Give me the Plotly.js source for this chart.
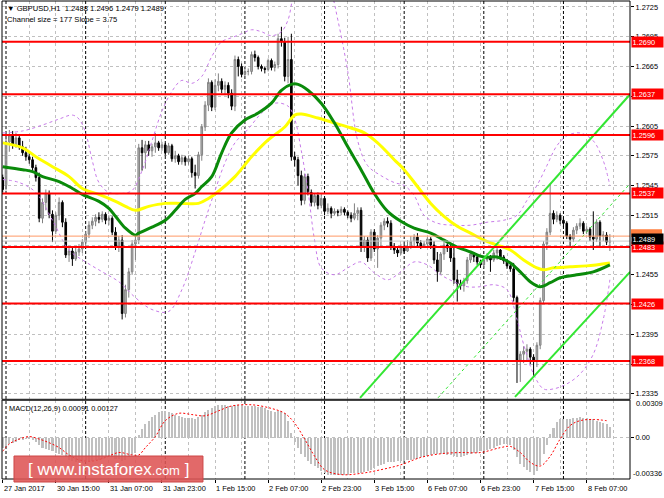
<!DOCTYPE html>
<html>
<head>
<meta charset="utf-8">
<script src="https://cdn.plot.ly/plotly-3.0.1.min.js"></script>
<style>
html,body{margin:0;padding:0;background:#fff;}
#chart{width:664px;height:498px;}
</style>
</head>
<body>
<div id="chart"></div>
<script>
// ---------------- DATA ----------------
const openP = [1.2553,1.2545,1.2589,1.2596,1.2586,1.2593,1.2584,1.2578,1.2574,1.2571,1.2563,1.2553,1.2512,1.2528,1.2537,1.2516,1.2499,1.2515,1.2528,1.2508,
1.2475,1.2479,1.2471,1.2478,1.2481,1.2488,1.2496,1.2505,1.2509,1.2513,1.2511,1.2516,1.2510,1.2512,1.2498,1.2484,1.2490,1.2416,1.2440,1.2458,
1.2486,1.2490,1.2583,1.2578,1.2586,1.2580,1.2584,1.2588,1.2583,1.2586,1.2578,1.2585,1.2572,1.2575,1.2569,1.2573,1.2569,1.2572,1.2558,1.2555,
1.2576,1.2604,1.2626,1.2649,1.2624,1.2646,1.2650,1.2642,1.2646,1.2638,1.2625,1.2672,1.2665,1.2657,1.2660,1.2660,1.2677,1.2674,1.2665,1.2663,
1.2662,1.2671,1.2664,1.2667,1.2693,1.2690,1.2655,1.2672,1.2574,1.2571,1.2555,1.2530,1.2554,1.2538,1.2528,1.2535,1.2525,1.2532,1.2519,1.2522,
1.2517,1.2519,1.2518,1.2521,1.2518,1.2515,1.2512,1.2517,1.2520,1.2483,1.2490,1.2472,1.2498,1.2481,1.2492,1.2505,1.2509,1.2507,1.2483,1.2480,
1.2477,1.2482,1.2479,1.2483,1.2489,1.2493,1.2487,1.2484,1.2486,1.2491,1.2485,1.2470,1.2458,1.2476,1.2485,1.2482,1.2472,1.2450,1.2446,1.2444,
1.2449,1.2470,1.2476,1.2473,1.2468,1.2465,1.2470,1.2473,1.2470,1.2477,1.2480,1.2473,1.2469,1.2464,1.2461,1.2432,1.2369,1.2375,1.2378,1.2380,
1.2372,1.2368,1.2384,1.2429,1.2486,1.2498,1.2517,1.2511,1.2515,1.2510,1.2507,1.2494,1.2491,1.2500,1.2504,1.2507,1.2499,1.2501,1.2493,1.2491,
1.2508,1.2494,1.2495,1.2488];
const highP = [1.2556,1.2592,1.2601,1.2600,1.2598,1.2596,1.2590,1.2584,1.2578,1.2574,1.2566,1.2558,1.2532,1.2541,1.2540,1.2520,1.2518,1.2533,1.2530,1.2512,
1.2482,1.2484,1.2483,1.2486,1.2491,1.2499,1.2509,1.2513,1.2516,1.2518,1.2519,1.2518,1.2515,1.2514,1.2503,1.2494,1.2495,1.2445,1.2462,1.2490,
1.2494,1.2587,1.2591,1.2590,1.2590,1.2587,1.2598,1.2590,1.2589,1.2588,1.2588,1.2587,1.2580,1.2577,1.2576,1.2575,1.2575,1.2574,1.2566,1.2579,
1.2607,1.2630,1.2653,1.2651,1.2652,1.2658,1.2653,1.2650,1.2649,1.2642,1.2676,1.2675,1.2668,1.2663,1.2663,1.2680,1.2681,1.2676,1.2667,1.2665,
1.2673,1.2673,1.2670,1.2698,1.2705,1.2694,1.2695,1.2698,1.2579,1.2574,1.2560,1.2557,1.2557,1.2541,1.2537,1.2538,1.2536,1.2534,1.2527,1.2524,
1.2522,1.2521,1.2524,1.2523,1.2520,1.2518,1.2527,1.2523,1.2523,1.2494,1.2493,1.2501,1.2501,1.2495,1.2508,1.2512,1.2513,1.2510,1.2487,1.2484,
1.2486,1.2486,1.2490,1.2494,1.2496,1.2497,1.2490,1.2489,1.2493,1.2493,1.2489,1.2478,1.2478,1.2490,1.2490,1.2485,1.2483,1.2460,1.2450,1.2452,
1.2473,1.2479,1.2478,1.2475,1.2470,1.2472,1.2477,1.2475,1.2480,1.2487,1.2481,1.2475,1.2471,1.2467,1.2467,1.2434,1.2378,1.2383,1.2385,1.2382,
1.2375,1.2387,1.2432,1.2489,1.2502,1.2547,1.2520,1.2519,1.2517,1.2513,1.2509,1.2496,1.2503,1.2507,1.2512,1.2509,1.2504,1.2503,1.2519,1.2511,
1.2510,1.2499,1.2498,1.2496];
const lowP = [1.2538,1.2540,1.2579,1.2582,1.2583,1.2581,1.2575,1.2570,1.2567,1.2560,1.2549,1.2508,1.2507,1.2520,1.2512,1.2488,1.2496,1.2510,1.2503,1.2472,
1.2468,1.2464,1.2469,1.2474,1.2477,1.2484,1.2492,1.2501,1.2504,1.2507,1.2508,1.2506,1.2505,1.2495,1.2480,1.2478,1.2410,1.2412,1.2432,1.2455,
1.2470,1.2486,1.2560,1.2562,1.2575,1.2574,1.2578,1.2580,1.2580,1.2575,1.2576,1.2569,1.2568,1.2566,1.2566,1.2565,1.2566,1.2553,1.2542,1.2552,
1.2570,1.2600,1.2620,1.2620,1.2621,1.2640,1.2638,1.2636,1.2633,1.2621,1.2620,1.2655,1.2654,1.2655,1.2656,1.2657,1.2670,1.2662,1.2660,1.2658,
1.2660,1.2661,1.2660,1.2663,1.2685,1.2650,1.2648,1.2570,1.2564,1.2545,1.2525,1.2526,1.2535,1.2524,1.2524,1.2521,1.2522,1.2515,1.2516,1.2512,
1.2515,1.2514,1.2515,1.2515,1.2512,1.2508,1.2510,1.2510,1.2478,1.2478,1.2468,1.2469,1.2478,1.2462,1.2484,1.2500,1.2503,1.2480,1.2476,1.2473,
1.2475,1.2476,1.2478,1.2481,1.2484,1.2484,1.2481,1.2483,1.2484,1.2481,1.2466,1.2448,1.2455,1.2470,1.2478,1.2468,1.2446,1.2428,1.2440,1.2438,
1.2446,1.2467,1.2468,1.2465,1.2462,1.2462,1.2468,1.2458,1.2468,1.2470,1.2470,1.2466,1.2461,1.2458,1.2428,1.2346,1.2347,1.2366,1.2368,1.2365,
1.2352,1.2362,1.2380,1.2426,1.2480,1.2495,1.2506,1.2508,1.2506,1.2503,1.2491,1.2483,1.2488,1.2496,1.2501,1.2496,1.2496,1.2489,1.2480,1.2488,
1.2482,1.2489,1.2485,1.2479];
const closeP = [1.2541,1.2589,1.2596,1.2586,1.2593,1.2584,1.2578,1.2574,1.2571,1.2563,1.2553,1.2512,1.2528,1.2537,1.2516,1.2499,1.2515,1.2528,1.2508,1.2475,
1.2479,1.2471,1.2478,1.2481,1.2488,1.2496,1.2505,1.2509,1.2513,1.2511,1.2516,1.2510,1.2512,1.2498,1.2484,1.2490,1.2416,1.2440,1.2458,1.2486,
1.2490,1.2583,1.2578,1.2586,1.2580,1.2584,1.2588,1.2583,1.2586,1.2578,1.2585,1.2572,1.2575,1.2569,1.2573,1.2569,1.2572,1.2558,1.2555,1.2576,
1.2604,1.2626,1.2649,1.2624,1.2646,1.2650,1.2642,1.2646,1.2638,1.2625,1.2672,1.2665,1.2657,1.2660,1.2660,1.2677,1.2674,1.2665,1.2663,1.2662,
1.2671,1.2664,1.2667,1.2693,1.2690,1.2655,1.2672,1.2574,1.2571,1.2555,1.2530,1.2554,1.2538,1.2528,1.2535,1.2525,1.2532,1.2519,1.2522,1.2517,
1.2519,1.2518,1.2521,1.2518,1.2515,1.2512,1.2517,1.2520,1.2483,1.2490,1.2472,1.2498,1.2481,1.2492,1.2505,1.2509,1.2507,1.2483,1.2480,1.2477,
1.2482,1.2479,1.2483,1.2489,1.2493,1.2487,1.2484,1.2486,1.2491,1.2485,1.2470,1.2458,1.2476,1.2485,1.2482,1.2472,1.2450,1.2446,1.2444,1.2449,
1.2470,1.2476,1.2473,1.2468,1.2465,1.2470,1.2473,1.2470,1.2477,1.2480,1.2473,1.2469,1.2464,1.2461,1.2432,1.2369,1.2375,1.2378,1.2380,1.2372,
1.2368,1.2384,1.2429,1.2486,1.2498,1.2517,1.2511,1.2515,1.2510,1.2507,1.2494,1.2491,1.2500,1.2504,1.2507,1.2499,1.2501,1.2493,1.2491,1.2508,
1.2494,1.2495,1.2488,1.2489];

// moving averages (bar index, price)
const greenBars = [0,6,9,12,17,21,24,29,32,34,37,40,41,45,49,52,55,58,60,63,66,69,73,77,81,84,87,89,92,96,100,104,108,112,116,120,124,129,133,137,141,145,149,153,156,159,162,165,168,173,178,183];
const greenVals = [1.2564,1.2561,1.2559,1.2554,1.2549,1.2542,1.2536,1.2529,1.2522,1.2514,1.2502,1.2495,1.2497,1.2503,1.2510,1.2520,1.2531,1.2537,1.2544,1.2554,1.2578,1.2598,1.2611,1.2618,1.2628,1.2641,1.2647,1.2647,1.2641,1.2628,1.2608,1.2584,1.2561,1.2537,1.2519,1.2509,1.2502,1.2497,1.2490,1.2483,1.2478,1.2473,1.2473,1.2467,1.2458,1.2448,1.2443,1.2447,1.2452,1.2455,1.2458,1.2465];
const yellowBars = [0,6,10,15,20,24,29,34,37,40,44,49,54,59,62,65,70,75,80,85,88,90,95,100,105,109,113,118,121,125,129,133,137,141,145,149,153,157,161,163,166,171,176,183];
const yellowVals = [1.2588,1.2583,1.2574,1.2564,1.2554,1.2542,1.2536,1.2529,1.2524,1.2520,1.2524,1.2527,1.2527,1.2527,1.2532,1.2539,1.2554,1.2574,1.2591,1.2604,1.2616,1.2617,1.2613,1.2608,1.2603,1.2598,1.2588,1.2571,1.2561,1.2544,1.2527,1.2514,1.2504,1.2497,1.2490,1.2485,1.2480,1.2470,1.2462,1.2460,1.2462,1.2463,1.2464,1.2467];

// bands (dashed violet)
const upperBars = [0,6,12,17,21,23,25,27,29,32,36,39,42,45,48,51,54,57,60,63,66,69,72,75,78,81,84,86,88,92,96,99,101,104,107,110,114,118,121,124,127,131,136,141,146,151,155,158,161,164,167,170,174,178,181,183];
const upperVals = [1.2598,1.2600,1.2606,1.2612,1.2616,1.2612,1.2598,1.2570,1.2548,1.2538,1.2537,1.2540,1.2560,1.2590,1.2620,1.2640,1.2651,1.2648,1.2655,1.2675,1.2690,1.2694,1.2698,1.2702,1.2700,1.2696,1.2700,1.2712,1.2740,1.2760,1.2760,1.2740,1.2712,1.2660,1.2590,1.2565,1.2555,1.2548,1.2545,1.2535,1.2515,1.2507,1.2505,1.2505,1.2508,1.2510,1.2515,1.2530,1.2545,1.2565,1.2585,1.2595,1.2598,1.2590,1.2570,1.2545];
const lowerBars = [0,5,10,15,20,25,30,35,40,45,50,54,58,61,64,67,70,74,78,82,86,88,90,92,94,96,100,104,108,112,116,120,124,128,132,136,140,144,148,152,155,157,160,163,166,170,174,178,181,183];
const lowerVals = [1.2551,1.2548,1.2538,1.2510,1.2480,1.2468,1.2458,1.2448,1.2432,1.2420,1.2418,1.2440,1.2478,1.2510,1.2540,1.2568,1.2588,1.2602,1.2618,1.2628,1.2625,1.2612,1.2580,1.2540,1.2490,1.2462,1.2455,1.2462,1.2468,1.2457,1.2450,1.2458,1.2468,1.2465,1.2455,1.2448,1.2443,1.2443,1.2445,1.2440,1.2410,1.2385,1.2355,1.2340,1.2340,1.2345,1.2355,1.2375,1.2410,1.2450];

// regression channel (bar index, price)
const chanUpperBars = [107.7, 189.1], chanUpperVals = [1.2331, 1.2637];
const chanMidBars   = [131.2, 189.1], chanMidVals   = [1.2331, 1.2547];
const chanLowerBars = [154.4, 189.1], chanLowerVals = [1.2332, 1.2458];

// horizontal levels
const levels = [1.2690, 1.2637, 1.2596, 1.2537, 1.2483, 1.2426, 1.2368];
const askPrice = 1.2494, bidPrice = 1.2489;

// MACD
const macdHist = [-0.0008,-0.0007,-0.0005,-0.0004,-0.0003,-0.0002,-0.0002,-0.0001,-0.0001,-0.0002,-0.0003,-0.0006,-0.0008,-0.0009,-0.0010,-0.0011,-0.0012,-0.0013,-0.0014,-0.0016,
-0.0018,-0.0019,-0.0020,-0.0020,-0.0020,-0.0020,-0.0019,-0.0019,-0.0018,-0.0018,-0.0017,-0.0016,-0.0015,-0.0016,-0.0017,-0.0017,-0.0019,-0.0018,-0.0016,-0.0014,
-0.0012,0.0002,0.0007,0.0011,0.0014,0.0017,0.0019,0.0021,0.0022,0.0022,0.0021,0.0020,0.0019,0.0018,0.0017,0.0016,0.0016,0.0016,0.0015,0.0017,
0.0019,0.0021,0.0023,0.0024,0.0026,0.0027,0.0027,0.0027,0.0026,0.0026,0.0027,0.0027,0.0027,0.0026,0.0026,0.0026,0.0026,0.0025,0.0025,0.0024,
0.0023,0.0022,0.0021,0.0022,0.0022,0.0020,0.0014,0.0004,-0.0003,-0.0008,-0.0013,-0.0016,-0.0019,-0.0021,-0.0023,-0.0025,-0.0027,-0.0029,-0.0030,-0.0030,
-0.0030,-0.0030,-0.0030,-0.0030,-0.0030,-0.0029,-0.0029,-0.0029,-0.0029,-0.0028,-0.0027,-0.0026,-0.0025,-0.0023,-0.0022,-0.0021,-0.0020,-0.0020,-0.0020,-0.0019,
-0.0019,-0.0019,-0.0018,-0.0018,-0.0017,-0.0017,-0.0016,-0.0016,-0.0015,-0.0014,-0.0013,-0.0013,-0.0013,-0.0013,-0.0014,-0.0014,-0.0015,-0.0016,-0.0016,-0.0015,
-0.0014,-0.0013,-0.0012,-0.0012,-0.0011,-0.0011,-0.0010,-0.0009,-0.0008,-0.0007,-0.0006,-0.0005,-0.0005,-0.0006,-0.0010,-0.0016,-0.0021,-0.0024,-0.0026,-0.0028,
-0.0030,-0.0027,-0.0022,-0.0013,-0.0006,0.0003,0.0008,0.0013,0.0015,0.0015,0.0015,0.0015,0.0016,0.0016,0.0017,0.0016,0.0016,0.0015,0.0015,0.0014,
0.0013,0.0012,0.0011,0.0009];
const signalBars = [0,2,5,8,11,14,17,20,23,27,31,35,39,41,43,46,49,53,57,61,65,69,75,81,85,88,91,94,97,102,108,114,120,126,132,138,144,150,153,156,159,162,165,168,171,174,178,182];
const signalVals = [-0.0011,-0.0005,-0.0001,0.0001,-0.0001,-0.0004,-0.0008,-0.0014,-0.0018,-0.0019,-0.0016,-0.0012,-0.0014,-0.0014,-0.0008,0.0001,0.0014,0.0020,0.0019,0.0018,0.0022,0.0026,0.0027,0.0024,0.0020,0.0012,-0.0001,-0.0015,-0.0026,-0.0030,-0.0029,-0.0026,-0.0022,-0.0016,-0.0013,-0.0012,-0.0012,-0.0008,-0.0007,-0.0012,-0.0020,-0.0023,-0.0015,-0.0001,0.0010,0.0014,0.0015,0.0014];
const macdMax = 0.00309, macdMin = -0.00336;

// axis labels
const xTickBars = [0,16,32,48,64,80,96,112,128,144,160,176];
const xTickText = ["27 Jan 2017","30 Jan 15:00","31 Jan 07:00","31 Jan 23:00","1 Feb 15:00","2 Feb 07:00","2 Feb 23:00","3 Feb 15:00","6 Feb 07:00","6 Feb 23:00","7 Feb 15:00","8 Feb 07:00"];
const daySepBars = [1,25,49,73,97,121,145,169];
const yTickVals = [1.2335,1.2365,1.2395,1.2425,1.2455,1.2485,1.2515,1.2545,1.2575,1.2605,1.2635,1.2665,1.2695,1.2725];
const yTickHidden = [1.2365,1.2425,1.2485,1.2635]; // covered by the level boxes in the picture

// ---------------- CHART ----------------
const F = "Liberation Sans, Arial, sans-serif";
const FS = 7.4;
const bars = closeP.map((_, i) => i);
const mainDom = [0.1663, 1];
const macdDom = [0, 0.1653];

const traces = [
  {type:'scatter', mode:'lines', x: upperBars, y: upperVals, line:{color:'#c77be8', width:1, dash:'3px,3px', shape:'spline'}, hoverinfo:'skip'},
  {type:'scatter', mode:'lines', x: lowerBars, y: lowerVals, line:{color:'#c77be8', width:1, dash:'3px,3px', shape:'spline'}, hoverinfo:'skip'},
  {type:'candlestick', x: bars, open: openP, high: highP, low: lowP, close: closeP,
   increasing:{line:{color:'#808080', width:1}, fillcolor:'#b4b4b4'},
   decreasing:{line:{color:'#000000', width:1}, fillcolor:'#000000'},
   whiskerwidth:0, hoverinfo:'skip'},
  {type:'scatter', mode:'lines', x: yellowBars, y: yellowVals, line:{color:'#ffff00', width:3, shape:'spline'}, hoverinfo:'skip'},
  {type:'scatter', mode:'lines', x: greenBars, y: greenVals, line:{color:'#0a8a0a', width:3, shape:'spline'}, hoverinfo:'skip'},
  {type:'scatter', mode:'lines', x: chanUpperBars, y: chanUpperVals, line:{color:'#33e633', width:2}, hoverinfo:'skip'},
  {type:'scatter', mode:'lines', x: chanLowerBars, y: chanLowerVals, line:{color:'#33e633', width:2}, hoverinfo:'skip'},
  {type:'scatter', mode:'lines', x: chanMidBars, y: chanMidVals, line:{color:'#33e633', width:1, dash:'3px,3px'}, hoverinfo:'skip'},
  {type:'bar', x: bars, y: macdHist, yaxis:'y2', width:0.62, marker:{color:'#c0c0c0', line:{width:0}}, hoverinfo:'skip'},
  {type:'scatter', mode:'lines', x: signalBars, y: signalVals, yaxis:'y2', line:{color:'#ff0000', width:1, dash:'2px,2px', shape:'spline'}, hoverinfo:'skip'}
];

const shapes = [];
// day separators
daySepBars.forEach(b => shapes.push({type:'line', xref:'x', yref:'paper', x0:b, x1:b, y0:0, y1:1, layer:'below', line:{color:'#000000', width:1, dash:'3px,2px'}}));
// level lines
levels.forEach(v => shapes.push({type:'line', xref:'paper', yref:'y', x0:0, x1:1, y0:v, y1:v, line:{color:'#ff0000', width:2}}));
shapes.push({type:'line', xref:'paper', yref:'y', x0:0, x1:1, y0:askPrice, y1:askPrice, line:{color:'#ff9966', width:1}});
shapes.push({type:'line', xref:'paper', yref:'y', x0:0, x1:1, y0:bidPrice, y1:bidPrice, line:{color:'#c8c8c8', width:1}});
// ask price box (mostly hidden behind the bid box in the picture)
shapes.push({type:'rect', xref:'paper', yref:'y', x0:1.0016, x1:1.051, y0:askPrice - 0.0001, y1:askPrice + 0.0007, fillcolor:'#ff7f3f', line:{width:0}});
// frames
shapes.push({type:'rect', xref:'paper', yref:'paper', x0:0, x1:1, y0:mainDom[0], y1:1, line:{color:'#000000', width:1}});
shapes.push({type:'rect', xref:'paper', yref:'paper', x0:0, x1:1, y0:macdDom[0], y1:macdDom[1], line:{color:'#000000', width:1}});
shapes.push({type:'line', xref:'paper', yref:'paper', x0:0, x1:1, y0:0.1658, y1:0.1658, line:{color:'#303030', width:2}});
// watermark
shapes.push({type:'rect', xref:'paper', yref:'paper', x0:0.0191, x1:0.320, y0:-0.0063, y1:0.0481, fillcolor:'rgba(222,84,84,0.88)', line:{color:'rgba(205,70,70,1)', width:1}, layer:'above'});

const annotations = [];
const levelText = v => v.toFixed(4);
levels.forEach(v => annotations.push({xref:'paper', yref:'y', x:1, y:v, xanchor:'left', yanchor:'middle', xshift:1, text:levelText(v), showarrow:false, bgcolor:'#ff0000', font:{family:F, size:FS, color:'#ffffff'}, width:30, align:'left', borderpad:0.5}));
annotations.push({xref:'paper', yref:'y', x:1, y:bidPrice + 0.0002, xanchor:'left', yanchor:'middle', xshift:1, text:levelText(bidPrice), showarrow:false, bgcolor:'#000000', font:{family:F, size:FS, color:'#ffffff'}, width:30, align:'left', borderpad:0.5});
// header
annotations.push({xref:'paper', yref:'paper', x:0, y:1, xanchor:'left', yanchor:'top', xshift:3, yshift:-1, text:'▼ GBPUSD,H1  1.2488 1.2496 1.2479 1.2489', showarrow:false, font:{family:F, size:7.6, color:'#000000'}});
annotations.push({xref:'paper', yref:'paper', x:0, y:1, xanchor:'left', yanchor:'top', xshift:3, yshift:-12, text:'Channel size = 177 Slope = 3.75', showarrow:false, font:{family:F, size:7.6, color:'#000000'}});
annotations.push({xref:'paper', yref:'paper', x:0, y:macdDom[1], xanchor:'left', yanchor:'top', xshift:5, yshift:-2, text:'MACD(12,26,9) 0.00091 0.00127', showarrow:false, font:{family:F, size:7.4, color:'#000000'}});
// x labels
xTickBars.forEach((b, k) => annotations.push({xref:'x', yref:'paper', x:b, y:0, xanchor:'left', yanchor:'top', yshift:-3, xshift:-1, text:xTickText[k], showarrow:false, font:{family:F, size:FS, color:'#000000'}}));
// macd axis labels
annotations.push({xref:'paper', yref:'y2', x:1, y:macdMax, xanchor:'left', yanchor:'top', xshift:4, yshift:3, text:macdMax.toFixed(5), showarrow:false, font:{family:F, size:FS, color:'#000000'}});
annotations.push({xref:'paper', yref:'y2', x:1, y:macdMin, xanchor:'left', yanchor:'bottom', xshift:1, yshift:-1, text:macdMin.toFixed(5), showarrow:false, font:{family:F, size:FS, color:'#000000'}});
// watermark text
annotations.push({xref:'paper', yref:'paper', x:0.169, y:0.0209, xanchor:'center', yanchor:'middle', text:'[ <span style="font-size:17px">www.instaforex</span><span style="font-size:13px">.com</span> ]', showarrow:false, font:{family:'Liberation Sans, Arial, sans-serif', size:17, color:'#ffffff'}});

const layout = {
  width:664, height:498,
  margin:{l:2, r:34, t:1, b:19, pad:0},
  paper_bgcolor:'#ffffff', plot_bgcolor:'#ffffff',
  showlegend:false,
  xaxis:{range:[-0.21, 189.06], anchor:'y2', showticklabels:false, ticks:'outside', ticklen:3, tickcolor:'#000',
         tickvals:xTickBars, showgrid:false, zeroline:false, showline:false, rangeslider:{visible:false},
         minor:{dtick:8, tick0:0, showgrid:true, gridcolor:'#c0c0c0', griddash:'3px,3px', gridwidth:1, ticks:''}, fixedrange:true},
  yaxis:{domain:mainDom, range:[1.23293, 1.27310], side:'right', anchor:'x', tickvals:yTickVals,
         ticktext:yTickVals.map(v => yTickHidden.includes(v) ? '' : v.toFixed(4)),
         ticks:'outside', ticklen:3, tickcolor:'#000', tickfont:{family:F, size:FS, color:'#000'},
         showgrid:true, gridcolor:'#c0c0c0', griddash:'3px,3px', zeroline:false, showline:false, fixedrange:true},
  yaxis2:{domain:macdDom, range:[macdMin, macdMax], side:'right', anchor:'x', tickvals:[0], ticktext:['0.00'],
          ticks:'outside', ticklen:3, tickcolor:'#000', tickfont:{family:F, size:FS, color:'#000'},
          showgrid:true, gridcolor:'#c0c0c0', griddash:'3px,3px', zeroline:false, showline:false, fixedrange:true},
  bargap:0,
  shapes: shapes,
  annotations: annotations
};

Plotly.newPlot('chart', traces, layout, {staticPlot:true, displayModeBar:false});
</script>
</body>
</html>
